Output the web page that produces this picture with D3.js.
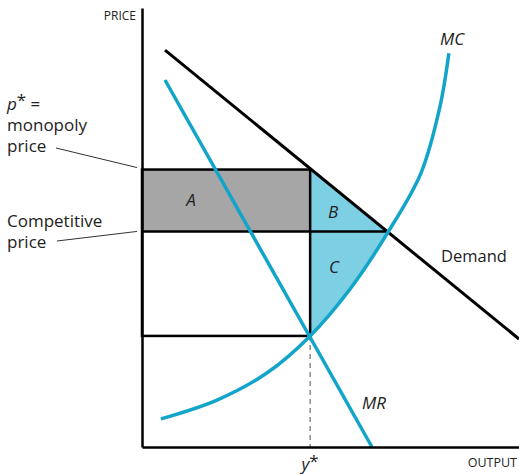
<!DOCTYPE html>
<html>
<head>
<meta charset="utf-8">
<script src="https://cdn.jsdelivr.net/npm/d3@7"></script>
<style>
  body { margin: 0; background: #fff; }
  text { font-family: "Open Sans", sans-serif; fill: #222; }
  .it { font-style: italic; }
</style>
</head>
<body>
<div id="chart-area"></div>
<script>

// SVG size
var width = 519,
    height = 474;

// Curve data (quantity, price) in chart units
var demand = [[6.1, 90.4], [100, 24.6]];
var mr = [[6.1, 83.6], [61.0, 0]];
var mc = [[5.0, 6.4], [19.9, 10.7], [33.2, 16.9], [44.6, 25.3], [55.2, 36.0],
          [65.3, 49.0], [74.0, 62.4], [79.0, 77.4], [81.4, 89.7]];

// Key levels
var yStar = 44.6,       // monopoly output
    pStar = 63.2,       // monopoly price
    pComp = 49.1,       // competitive price
    qComp = 65.0,       // competitive output
    mcStar = 25.3;      // MC at y*

var blue = "#12a4c9",
    lightBlue = "#7dcfe3",
    grey = "#a6a6a6";

var svg = d3.select("#chart-area").append("svg")
    .attr("width", width)
    .attr("height", height);

// Scales
var x = d3.scaleLinear().domain([0, 100]).range([142, 519]);
var y = d3.scaleLinear().domain([0, 100]).range([447, 8]);

var line = d3.line()
    .x(function(d){ return x(d[0]); })
    .y(function(d){ return y(d[1]); });

var mcLine = d3.line()
    .x(function(d){ return x(d[0]); })
    .y(function(d){ return y(d[1]); })
    .curve(d3.curveCatmullRom);

// Area A (grey rectangle)
svg.append("rect")
    .attr("x", x(0)).attr("y", y(pStar))
    .attr("width", x(yStar) - x(0)).attr("height", y(pComp) - y(pStar))
    .attr("fill", grey);

// Area B (triangle under demand)
svg.append("path")
    .attr("d", line([[yStar, pStar], [qComp, pComp], [yStar, pComp]]) + "Z")
    .attr("fill", lightBlue);

// Area C (between competitive price and MC), clipped
svg.append("clipPath").attr("id", "clipC")
  .append("rect")
    .attr("x", x(yStar)).attr("y", y(pComp))
    .attr("width", x(qComp) - x(yStar)).attr("height", y(mcStar) - y(pComp));

var last = mc[mc.length - 1];
svg.append("path")
    .attr("clip-path", "url(#clipC)")
    .attr("d", mcLine(mc) + "L" + x(last[0]) + "," + y(100) + "L" + x(0) + "," + y(100) + "L" + x(0) + "," + y(mc[0][1]) + "Z")
    .attr("fill", lightBlue);

// Rectangle outlines and guide lines
var black = svg.append("g")
    .attr("stroke", "#000")
    .attr("stroke-width", 2.5)
    .attr("fill", "none");

black.append("rect")
    .attr("x", x(0)).attr("y", y(pStar))
    .attr("width", x(yStar) - x(0)).attr("height", y(mcStar) - y(pStar));

black.append("line")
    .attr("x1", x(0)).attr("x2", x(qComp))
    .attr("y1", y(pComp)).attr("y2", y(pComp));

// Dashed drop line at y*
svg.append("line")
    .attr("x1", x(yStar)).attr("x2", x(yStar))
    .attr("y1", y(mcStar)).attr("y2", y(0))
    .attr("stroke", "#777")
    .attr("stroke-width", 1.3)
    .attr("stroke-dasharray", "5,4");

// Curves
svg.append("path")
    .attr("d", line(demand))
    .attr("stroke", "#000").attr("stroke-width", 3).attr("fill", "none");

svg.append("path")
    .attr("d", line(mr))
    .attr("stroke", blue).attr("stroke-width", 3.5).attr("fill", "none");

svg.append("path")
    .attr("d", mcLine(mc))
    .attr("stroke", blue).attr("stroke-width", 3.5).attr("fill", "none");

// Axes (no ticks)
var xAxis = d3.axisBottom(x).tickValues([]).tickSizeOuter(0);
var yAxis = d3.axisLeft(y).tickValues([]).tickSizeOuter(0);

svg.append("g")
    .attr("transform", "translate(0," + y(0) + ")")
    .call(xAxis)
    .select(".domain").attr("stroke-width", 2.5);

svg.append("g")
    .attr("transform", "translate(" + x(0) + ",0)")
    .call(yAxis)
    .select(".domain").attr("stroke-width", 2.5);

// Axis labels
svg.append("text").attr("x", 136).attr("y", 20)
    .attr("text-anchor", "end").style("font-size", "12px").text("PRICE");
svg.append("text").attr("x", 517).attr("y", 467)
    .attr("text-anchor", "end").style("font-size", "12.5px").text("OUTPUT");

var ystar = svg.append("text").attr("x", x(yStar)).attr("y", 470)
    .attr("text-anchor", "middle").style("font-size", "17px");
ystar.append("tspan").attr("class", "it").text("y");
ystar.append("tspan").attr("dy", -3).text("*");

// Curve labels
svg.append("text").attr("class", "it").attr("x", 440).attr("y", 45)
    .style("font-size", "17px").text("MC");
svg.append("text").attr("class", "it").attr("x", 362).attr("y", 409)
    .style("font-size", "17px").text("MR");
svg.append("text").attr("x", 441).attr("y", 262)
    .style("font-size", "16.5px").text("Demand");

// Region labels
svg.append("text").attr("class", "it").attr("x", 191).attr("y", 206)
    .attr("text-anchor", "middle").style("font-size", "17px").text("A");
svg.append("text").attr("class", "it").attr("x", 333).attr("y", 218)
    .attr("text-anchor", "middle").style("font-size", "17px").text("B");
svg.append("text").attr("class", "it").attr("x", 334).attr("y", 273)
    .attr("text-anchor", "middle").style("font-size", "17px").text("C");

// Left-hand price labels
var pLabel = svg.append("text").attr("x", 7).attr("y", 110).style("font-size", "17px");
pLabel.append("tspan").attr("class", "it").text("p");
pLabel.append("tspan").attr("dy", -4).text("*");
pLabel.append("tspan").attr("dy", 4).text(" =");
svg.append("text").attr("x", 7).attr("y", 131).style("font-size", "17px").text("monopoly");
svg.append("text").attr("x", 7).attr("y", 152).style("font-size", "17px").text("price");
svg.append("text").attr("x", 7).attr("y", 227).style("font-size", "17px").text("Competitive");
svg.append("text").attr("x", 7).attr("y", 248).style("font-size", "17px").text("price");

svg.append("line")
    .attr("x1", 56).attr("y1", 148).attr("x2", 137).attr("y2", y(pStar) - 2)
    .attr("stroke", "#333").attr("stroke-width", 1);
svg.append("line")
    .attr("x1", 57).attr("y1", 241).attr("x2", 137).attr("y2", y(pComp))
    .attr("stroke", "#333").attr("stroke-width", 1);

</script>
</body>
</html>
